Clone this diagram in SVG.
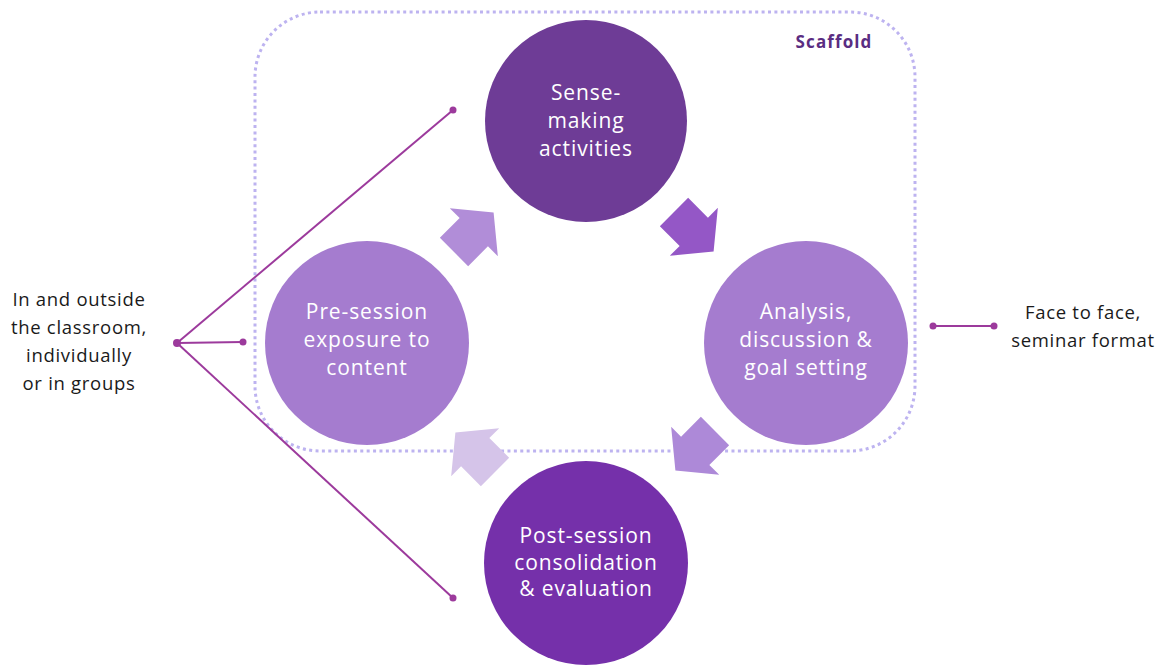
<svg xmlns="http://www.w3.org/2000/svg" width="1161" height="666" viewBox="0 0 1161 666">
  <style>
    .node-text { font-family: "Open Sans", "Noto Sans", sans-serif; font-size: 21px; letter-spacing: 0.9px; fill: #ffffff; text-anchor: middle; }
    .side-text { font-family: "Open Sans", "Noto Sans", sans-serif; font-size: 18.5px; letter-spacing: 0.7px; fill: #1a1a1a; text-anchor: middle; }
    .link { stroke: #9c3a9c; stroke-width: 2; fill: none; }
    .dot { fill: #9c3a9c; }
  </style>
  <defs>
    <!-- block arrow pointing along +x, base at origin -->
    <polygon id="block-arrow" points="0,-20 28,-20 28,-34 56,0 28,34 28,20 0,20"/>
  </defs>
  <rect width="1161" height="666" fill="#ffffff"/>

  <!-- scaffold boundary -->
  <g id="scaffold">
    <rect x="255" y="12" width="660" height="439" rx="65" ry="65" fill="none" stroke="#bdb3f0" stroke-width="3" stroke-dasharray="3 3.4"/>
    <text x="834" y="48" font-family="Open Sans, Noto Sans, sans-serif" font-size="17" font-weight="bold" letter-spacing="1.1" fill="#5a2d82" text-anchor="middle">Scaffold</text>
  </g>

  <!-- connectors -->
  <g id="connectors">
    <line class="link" x1="177" y1="343" x2="453" y2="110"/>
    <line class="link" x1="177" y1="343" x2="243" y2="342"/>
    <line class="link" x1="177" y1="343" x2="453" y2="598"/>
    <circle class="dot" cx="177" cy="343" r="4"/>
    <circle class="dot" cx="453" cy="110" r="3.5"/>
    <circle class="dot" cx="243" cy="342" r="3.5"/>
    <circle class="dot" cx="453" cy="598" r="3.5"/>
    <line class="link" x1="933" y1="326" x2="994" y2="326"/>
    <circle class="dot" cx="933" cy="326" r="3.5"/>
    <circle class="dot" cx="994" cy="326" r="3.5"/>
    <!-- cycle arrows -->
    <use href="#block-arrow" fill="#b18dd8" transform="translate(454,252) rotate(-45)"/>
    <use href="#block-arrow" fill="#9457c6" transform="translate(674,212) rotate(45)"/>
    <use href="#block-arrow" fill="#ad89d8" transform="translate(715,431) rotate(135)"/>
    <use href="#block-arrow" fill="#d5c4e9" transform="translate(495,472) rotate(-135)"/>
  </g>

  <g id="node-sense-making">
    <circle cx="586" cy="121" r="101" fill="#6e3c96"/>
    <text class="node-text" x="586" y="100">Sense-</text>
    <text class="node-text" x="586" y="128">making</text>
    <text class="node-text" x="586" y="156">activities</text>
  </g>

  <g id="node-pre-session">
    <circle cx="367" cy="343" r="102" fill="#a57ccf"/>
    <text class="node-text" x="367" y="319">Pre-session</text>
    <text class="node-text" x="367" y="347">exposure to</text>
    <text class="node-text" x="367" y="375">content</text>
  </g>

  <g id="node-analysis">
    <circle cx="806" cy="343" r="102" fill="#a57ccf"/>
    <text class="node-text" x="806" y="319">Analysis,</text>
    <text class="node-text" x="806" y="347">discussion &amp;</text>
    <text class="node-text" x="806" y="375">goal setting</text>
  </g>

  <g id="node-post-session">
    <circle cx="586" cy="563" r="102" fill="#7530aa"/>
    <text class="node-text" x="586" y="543">Post-session</text>
    <text class="node-text" x="586" y="570">consolidation</text>
    <text class="node-text" x="586" y="596">&amp; evaluation</text>
  </g>

  <g id="label-outside">
    <text class="side-text" x="79" y="306">In and outside</text>
    <text class="side-text" x="79" y="334">the classroom,</text>
    <text class="side-text" x="79" y="362">individually</text>
    <text class="side-text" x="79" y="390">or in groups</text>
  </g>

  <g id="label-face">
    <text class="side-text" x="1083" y="319">Face to face,</text>
    <text class="side-text" x="1083" y="347">seminar format</text>
  </g>
</svg>
